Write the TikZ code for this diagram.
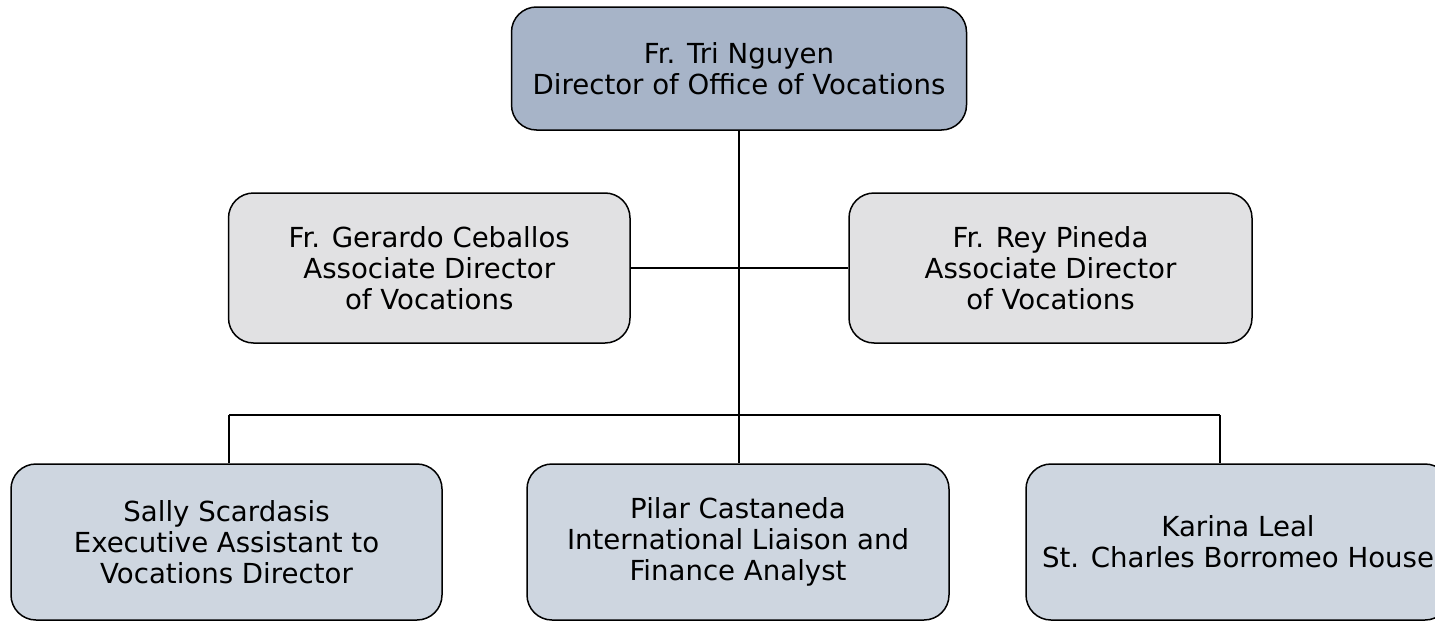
\documentclass[tikz,border=0pt]{standalone}
\usepackage{fontspec}
\setmainfont{DejaVu Sans}
\usetikzlibrary{positioning}
\definecolor{topblue}{HTML}{A7B4C8}
\definecolor{midgray}{HTML}{E1E1E3}
\definecolor{lowblue}{HTML}{CED6E0}

\begin{document}
\begin{tikzpicture}[x=1pt,y=-1pt]
	\tikzstyle{person}=[draw=black,line width=1.5pt,rounded corners=25pt,align=center,
		font=\fontsize{27.6}{31}\selectfont,inner sep=0pt]
	\tikzstyle{link}=[line width=1.5pt]

	\clip (0,0) rectangle (1435,621);

	\node [person,fill=topblue,minimum width=455pt,minimum height=123pt] (1) at (739,68.5)
		{Fr. Tri Nguyen\\Director of Office of Vocations};
	\node [person,fill=midgray,minimum width=401.5pt,minimum height=150pt] (2) at (429.25,268)
		{Fr. Gerardo Ceballos\\Associate Director\\of Vocations};
	\node [person,fill=midgray,minimum width=403pt,minimum height=150pt] (3) at (1050.5,268)
		{Fr. Rey Pineda\\Associate Director\\of Vocations};
	\node [person,fill=lowblue,minimum width=431pt,minimum height=156pt] (4) at (226.5,542)
		{Sally Scardasis\\Executive Assistant to\\Vocations Director};
	\node [person,fill=lowblue,minimum width=422pt,minimum height=156pt] (5) at (738,542)
		{Pilar Castaneda\\International Liaison and\\Finance Analyst};
	\node [person,fill=lowblue,minimum width=424pt,minimum height=156pt] (6) at (1238,542)
		{Karina Leal\\St. Charles Borromeo House};

	\coordinate (b1) at (229,415);
	\coordinate (b3) at (1220,415);

	\draw [link] (1.south) -- (1.south |- 5.north);
	\draw [link] (2.east) -- (3.west);
	\draw [link] (b1) -- (b3);
	\draw [link] (b1) -- (b1 |- 4.north);
	\draw [link] (b3) -- (b3 |- 6.north);
\end{tikzpicture}
\end{document}
